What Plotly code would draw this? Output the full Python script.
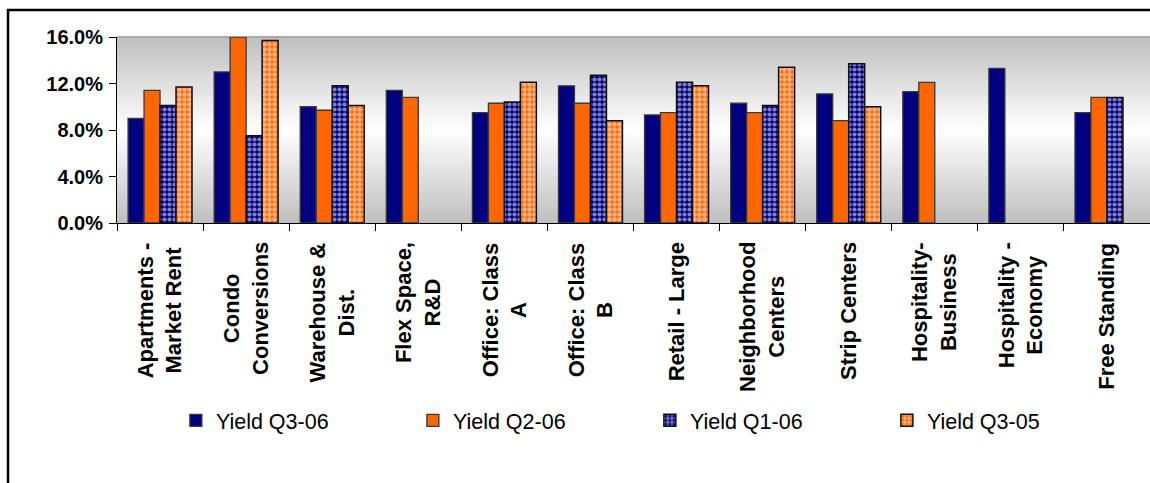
import plotly.graph_objects as go

# ---------------- data ----------------
categories = [
    "Apartments -<br>Market Rent", "Condo<br>Conversions", "Warehouse &<br>Dist.",
    "Flex Space,<br>R&D", "Office: Class<br>A", "Office: Class<br>B",
    "Retail - Large", "Neighborhood<br>Centers", "Strip Centers",
    "Hospitality-<br>Business", "Hospitality -<br>Economy", "Free Standing",
]
series_names = ["Yield Q3-06", "Yield Q2-06", "Yield Q1-06", "Yield Q3-05"]
yield_q3_06 = [9.0, 13.0, 10.0, 11.4, 9.5, 11.8, 9.3, 10.3, 11.1, 11.3, 13.3, 9.5]
yield_q2_06 = [11.4, 16.0, 9.7, 10.8, 10.3, 10.3, 9.5, 9.5, 8.8, 12.1, None, 10.8]
yield_q1_06 = [10.1, 7.5, 11.8, None, 10.4, 12.7, 12.1, 10.1, 13.7, None, None, 10.8]
yield_q3_05 = [11.7, 15.7, 10.1, None, 12.1, 8.8, 11.8, 13.4, 10.0, None, None, None]
y_ticks = [0, 4, 8, 12, 16]
y_tick_labels = [f"{v:.1f}%" for v in y_ticks]

NAVY = "#000080"
ORANGE = "#FF6600"
FONT = "Liberation Sans, Arial, sans-serif"

fig = go.Figure()

styles = [
    dict(color=NAVY, line=dict(color="#3a3a3a", width=1.3)),
    dict(color=ORANGE, line=dict(color="#3a3a3a", width=1.3)),
    dict(color=NAVY, line=dict(color="#111111", width=1.5),
         pattern=dict(shape=".", fgcolor="white", bgcolor=NAVY, size=5, solidity=0.55)),
    dict(color=ORANGE, line=dict(color="#111111", width=1.5),
         pattern=dict(shape=".", fgcolor="white", bgcolor=ORANGE, size=5, solidity=0.62)),
]
for name, vals, st in zip(series_names, [yield_q3_06, yield_q2_06, yield_q1_06, yield_q3_05], styles):
    fig.add_trace(go.Bar(x=categories, y=vals, name=name, marker=st))

# gradient background of the plot area (grey - white - grey), style only
shapes = []
N = 60
for i in range(N):
    t0, t1 = i / N, (i + 1) / N
    tm = (t0 + t1) / 2
    g = int(round(255 - 64 * abs(2 * tm - 1)))
    col = f"rgb({g},{g},{g})"
    shapes.append(dict(type="rect", xref="x domain", yref="y domain",
                       x0=0, x1=1, y0=t0, y1=min(1, t1 + 0.004),
                       fillcolor=col, line=dict(width=0), layer="below"))
# top edge of plot area
shapes.append(dict(type="line", xref="x domain", yref="y domain", x0=0, x1=1, y0=1, y1=1,
                   line=dict(color="#a8a8a8", width=2), layer="below"))
# outer chart border (top & left visible)
shapes.append(dict(type="rect", xref="paper", yref="paper", x0=-0.1055, x1=1.2,
                   y0=-2.0, y1=1.145, line=dict(color="black", width=2.5), fillcolor="rgba(0,0,0,0)"))

annotations = []
for c in categories:
    annotations.append(dict(x=c, xref="x", y=-0.093, yref="paper", text=c, showarrow=False,
                            textangle=-90, xanchor="center", yanchor="top", align="center",
                            font=dict(family=FONT, size=22, color="black", weight="bold")))

fig.update_layout(
    width=1150, height=483,
    margin=dict(l=117, r=0, t=37, b=260),
    paper_bgcolor="white", plot_bgcolor="white",
    barmode="group", bargap=0.257, bargroupgap=0,
    showlegend=True,
    legend=dict(orientation="h", x=0.057, xanchor="left", y=-1.061, yanchor="middle",
                font=dict(family=FONT, size=21.5, color="black"),
                entrywidth=192, entrywidthmode="pixels", bgcolor="rgba(0,0,0,0)",
                traceorder="normal"),
    shapes=shapes,
    annotations=annotations,
    font=dict(family=FONT, color="black"),
)
fig.update_xaxes(type="category", showticklabels=False, ticks="outside", tickson="boundaries",
                 ticklen=7, tickcolor="black", showline=True, linecolor="black", linewidth=1,
                 showgrid=False, zeroline=False, range=[-0.5, 11.5])
fig.update_yaxes(range=[0, 16], tickvals=y_ticks, ticktext=y_tick_labels,
                 ticks="outside", ticklen=7, tickcolor="black", showline=True, linecolor="black",
                 linewidth=1, showgrid=False, zeroline=False, ticklabelstandoff=2,
                 tickfont=dict(family=FONT, size=20, color="black", weight="bold"))

fig.write_html("out.html", config={"displayModeBar": False},
               post_script="document.body.style.margin='0';document.body.style.overflow='hidden';")
